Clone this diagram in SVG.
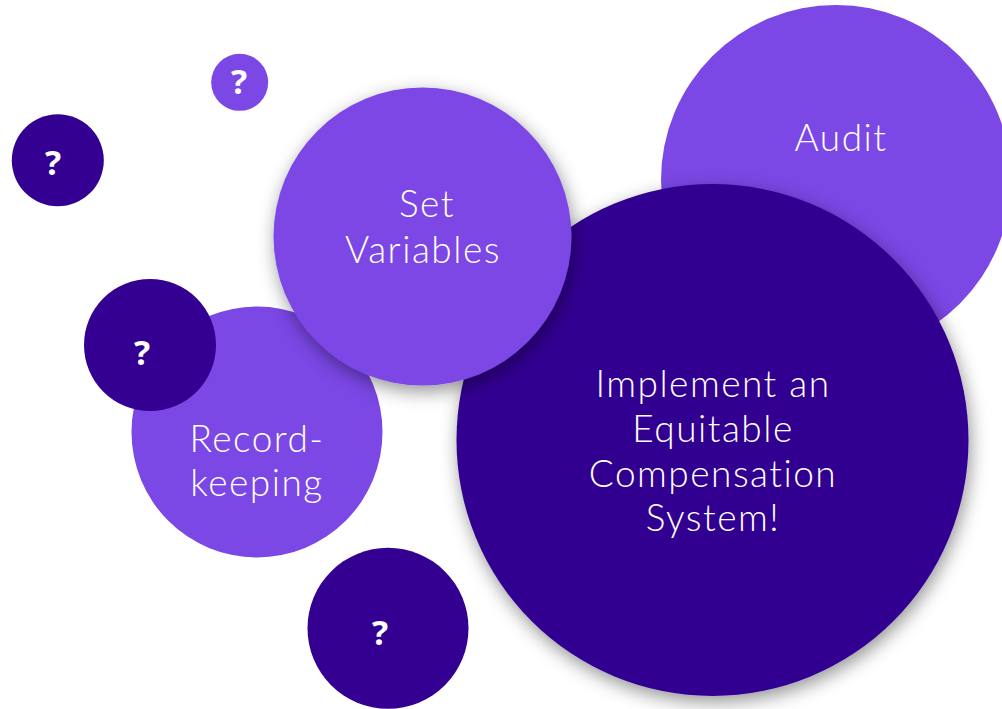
<svg xmlns="http://www.w3.org/2000/svg" width="1002" height="709" viewBox="0 0 1002 709">
  <defs>
    <filter id="softShadow" x="-20%" y="-20%" width="140%" height="140%">
      <feDropShadow dx="2" dy="6" stdDeviation="9" flood-color="#000" flood-opacity="0.42"/>
    </filter>
  </defs>
  <style>
    .light { fill: #7b47e5; }
    .dark { fill: #330091; }
    .label { font-family: "Lato", "Liberation Sans", sans-serif; font-weight: 300; font-size: 37px; letter-spacing: 1.5px; fill: #ffffff; text-anchor: middle; }
    .q { font-family: "Open Sans", "Liberation Sans", sans-serif; font-weight: 700; font-size: 34px; fill: #ffffff; text-anchor: middle; }
  </style>
  <rect width="1002" height="709" fill="#ffffff"/>

  <g id="audit">
    <circle class="light" cx="836" cy="180" r="175"/>
    <text class="label" x="841" y="151">Audit</text>
  </g>

  <g id="equitable-system" filter="url(#softShadow)">
    <circle class="dark" cx="712.5" cy="440" r="256"/>
  </g>
  <g id="equitable-system-label">
    <text class="label" x="713" y="397">Implement an</text>
    <text class="label" x="713" y="442">Equitable</text>
    <text class="label" x="713" y="487">Compensation</text>
    <text class="label" x="713" y="531">System!</text>
  </g>

  <g id="recordkeeping">
    <circle class="light" cx="257" cy="432" r="125.5"/>
    <text class="label" x="257" y="452">Record-</text>
    <text class="label" x="257" y="496">keeping</text>
  </g>

  <g id="unknown-1">
    <circle class="dark" cx="150" cy="345" r="66"/>
    <text class="q" x="142" y="365">?</text>
  </g>

  <g id="set-variables" filter="url(#softShadow)">
    <circle class="light" cx="422.5" cy="236.5" r="149"/>
  </g>
  <g id="set-variables-label">
    <text class="label" x="427" y="217">Set</text>
    <text class="label" x="423" y="263">Variables</text>
  </g>

  <g id="unknown-2">
    <circle class="light" cx="239.7" cy="82.3" r="28.5"/>
    <text class="q" x="239" y="94">?</text>
  </g>

  <g id="unknown-3">
    <circle class="dark" cx="57.8" cy="160.3" r="46"/>
    <text class="q" x="53" y="175">?</text>
  </g>

  <g id="unknown-4">
    <circle class="dark" cx="388" cy="628.3" r="80.5"/>
    <text class="q" x="380" y="645">?</text>
  </g>

  <g id="connectors"></g>
</svg>
